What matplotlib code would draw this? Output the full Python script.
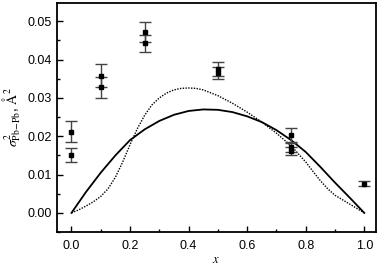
import matplotlib
matplotlib.use('Agg')
import matplotlib.pyplot as plt
from matplotlib.ticker import MultipleLocator, FormatStrFormatter

plt.rcParams.update({'font.size': 9, 'font.family': 'Liberation Sans',
                     'mathtext.fontset': 'stix'})

# experimental points (x, sigma^2, error)
exp_x = [0.0, 0.0, 0.1, 0.1, 0.25, 0.25, 0.5, 0.5, 0.75, 0.75, 0.75, 1.0]
exp_y = [0.0212, 0.0151, 0.0358, 0.0328, 0.0472, 0.0443, 0.0375, 0.0365,
         0.0202, 0.0172, 0.0162, 0.0076]
exp_err = [0.0027, 0.0018, 0.0030, 0.0027, 0.0025, 0.0022, 0.0018, 0.0016,
           0.0019, 0.0012, 0.0011, 0.0006]

# solid model curve
solid_x = [0.0, 0.05, 0.1, 0.15, 0.2, 0.25, 0.3, 0.35, 0.4, 0.45, 0.5,
           0.55, 0.6, 0.65, 0.7, 0.75, 0.8, 0.85, 0.9, 0.95, 1.0]
solid_y = [0.0, 0.0055, 0.0105, 0.0150, 0.0190, 0.0218, 0.0240, 0.0256,
           0.0266, 0.0270, 0.0269, 0.0263, 0.0252, 0.0237, 0.0216, 0.0190,
           0.0159, 0.0120, 0.0079, 0.0040, 0.0]

# dotted model curve
dotted_x = [0.0, 0.025, 0.05, 0.075, 0.1, 0.125, 0.15, 0.175, 0.2, 0.225,
            0.25, 0.275, 0.3, 0.325, 0.35, 0.375, 0.4, 0.425, 0.45, 0.5,
            0.55, 0.6, 0.65, 0.7, 0.75, 0.8, 0.825, 0.85, 0.875, 0.9,
            0.95, 1.0]
dotted_y = [0.0, 0.0008, 0.0018, 0.0029, 0.0043, 0.0063, 0.0093, 0.0133,
            0.0178, 0.0220, 0.0255, 0.0282, 0.0300, 0.0313, 0.0321, 0.0325,
            0.0326, 0.0325, 0.0321, 0.0306, 0.0286, 0.0263, 0.0237, 0.0208,
            0.0175, 0.0133, 0.0108, 0.0084, 0.0063, 0.0046, 0.0023, 0.0]

fig = plt.figure(figsize=(3.79, 2.67), dpi=100)
ax = fig.add_axes([0.150, 0.131, 0.842, 0.858])

ax.plot(solid_x, solid_y, color='black', lw=1.3)
ax.plot(dotted_x, dotted_y, color='black', lw=1.0, linestyle=(0, (1, 1)))
ax.errorbar(exp_x, exp_y, yerr=exp_err, fmt='s', color='black', ms=3.5,
            ecolor='#444444', elinewidth=1.0, capsize=4, capthick=1.0)

ax.set_xlim(-0.05, 1.04)
ax.set_ylim(-0.005, 0.0548)
ax.xaxis.set_major_locator(MultipleLocator(0.2))
ax.xaxis.set_minor_locator(MultipleLocator(0.1))
ax.yaxis.set_major_locator(MultipleLocator(0.01))
ax.yaxis.set_minor_locator(MultipleLocator(0.005))
ax.xaxis.set_major_formatter(FormatStrFormatter('%.1f'))
ax.yaxis.set_major_formatter(FormatStrFormatter('%.2f'))
ax.tick_params(direction='in', which='major', length=4, width=1)
ax.tick_params(direction='in', which='minor', length=2, width=1)
ax.tick_params(axis='x', pad=6)
for s in ax.spines.values():
    s.set_linewidth(1.3)

ax.set_xlabel(r'$x$', fontsize=9, labelpad=1)
ax.set_ylabel(r'$\sigma^2_{\rm Pb\!-\!Pb}$, $\rm\AA^2$', fontsize=10,
              labelpad=3)

plt.savefig('out.png', dpi=100)
